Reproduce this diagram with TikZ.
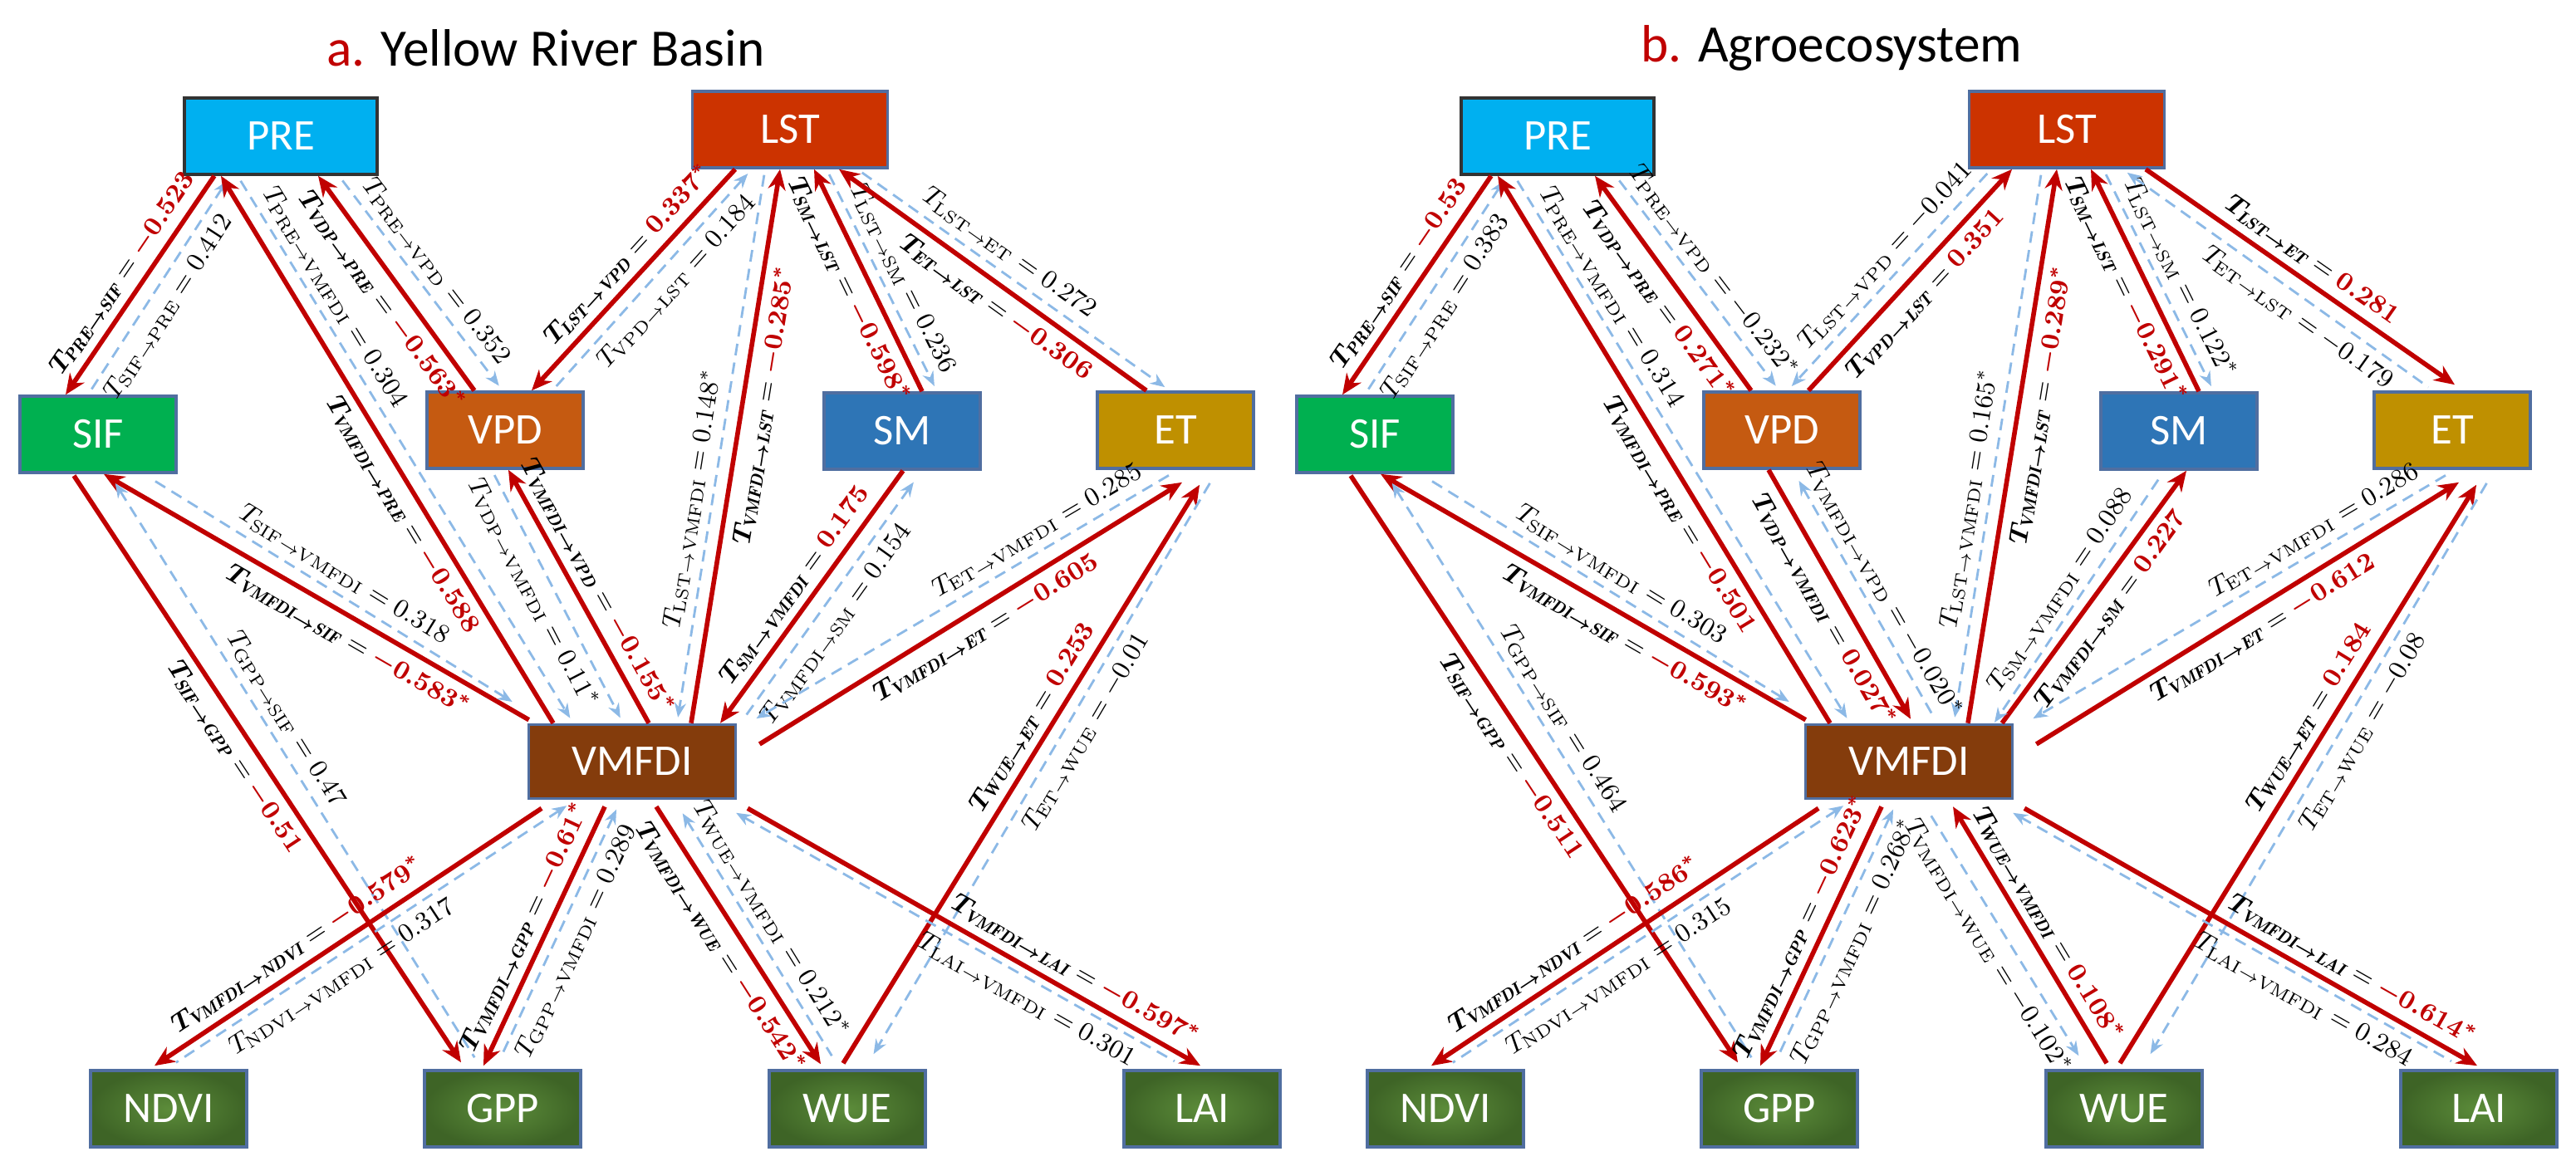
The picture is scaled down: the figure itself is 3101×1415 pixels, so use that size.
\documentclass[tikz,border=0pt]{standalone}
\usepackage{fontspec}
\usepackage{amsmath,bm}
\newfontfamily\calfont{Carlito}
\usetikzlibrary{calc,arrows.meta}
\definecolor{tred}{RGB}{192,0,0}
\definecolor{bl}{RGB}{140,185,230}
\definecolor{cPRE}{RGB}{0,176,240}
\definecolor{cLST}{RGB}{204,51,0}
\definecolor{cSIF}{RGB}{0,176,80}
\definecolor{cVPD}{RGB}{197,90,17}
\definecolor{cSM}{RGB}{46,117,182}
\definecolor{cET}{RGB}{191,144,0}
\definecolor{cVM}{RGB}{132,60,12}
\definecolor{gin}{RGB}{92,140,58}
\definecolor{gout}{RGB}{62,100,38}
\definecolor{bord}{RGB}{80,110,160}
\tikzset{
 box/.style={draw=bord,line width=1pt,text=white,font=\calfont\fontsize{15}{16}\selectfont,inner sep=0pt,minimum height=0.92cm,minimum width=1.88cm},
 gbox/.style={box,inner color=gin,outer color=gout},
 redline/.style={draw=tred,line width=1.6pt,>={Stealth[length=7pt,width=6pt]}},
 blueline/.style={draw=bl,line width=0.8pt,dash pattern=on 4pt off 2.5pt,>={Stealth[length=5pt,width=4pt]},shorten >=2pt,shorten <=2pt},
 lab/.style={font=\fontsize{9}{10}\selectfont,inner sep=2.6pt,text=black},
 ttl/.style={font=\calfont\fontsize{18}{20}\selectfont}
}
\newcommand\Red[9]{\draw[redline,#1] ($(#2)+(#3)$) -- node[lab,sloped,#7,pos=#6]{$\bm{T_{\mathit{#8}}} = \textcolor{tred}{\bm{#9}}$} ($(#4)+(#5)$);}
\newcommand\Blu[9]{\draw[blueline,#1] ($(#2)+(#3)$) -- node[lab,sloped,#7,pos=#6]{$T_{\mathrm{#8}} = #9$} ($(#4)+(#5)$);}
\begin{document}
\begin{tikzpicture}[x=0.01cm,y=-0.01cm]
\useasboundingbox (0,0) rectangle (3101,1415);
% ---------- panel a ----------
\node[ttl] (ta) at (657,58) {\textcolor{tred}{a.} Yellow River Basin};
\node[box,fill=cPRE,draw=black!80,minimum width=2.32cm] (aPRE) at (338,164) {PRE};
\node[box,fill=cLST,minimum width=2.35cm] (aLST) at (951,156) {LST};
\node[box,fill=cSIF] (aSIF) at (118,523) {SIF};
\node[box,fill=cVPD] (aVPD) at (608,518) {VPD};
\node[box,fill=cSM] (aSM) at (1086,519) {SM};
\node[box,fill=cET] (aET) at (1415,518) {ET};
\node[box,fill=cVM,minimum width=2.49cm,minimum height=0.89cm] (aVMFDI) at (761,917) {VMFDI};
\node[gbox] (aNDVI) at (203,1335) {NDVI};
\node[gbox] (aGPP) at (605,1335) {GPP};
\node[gbox] (aWUE) at (1020,1335) {WUE};
\node[gbox] (aLAI) at (1447,1335) {LAI};
\Red{->}{aPRE.south}{-80,0}{aSIF.north}{-39,0}{.5}{above}{PRE\to SIF}{-0.523}
\Blu{<-}{aPRE.south}{-61,0}{aSIF.north}{-12,0}{.55}{below}{SIF\to PRE}{0.412}
\Red{<-}{aPRE.south}{-72,0}{aVMFDI.north}{-95,0}{.6}{below}{VMFDI\to PRE}{-0.588}
\Blu{->}{aPRE.south}{-52,0}{aVMFDI.north}{-71,0}{.24}{above}{PRE\to VMFDI}{0.304}
\Red{<-}{aPRE.south}{45,0}{aVPD.north}{-37,0}{.52}{below}{VDP\to PRE}{-0.563^{*}}
\Blu{->}{aPRE.south}{70,0}{aVPD.north}{-3,0}{.5}{above}{PRE\to VPD}{0.352}
\Red{->}{aLST.south}{-66,0}{aVPD.north}{32,0}{.45}{above}{LST\to VPD}{0.337^{*}}
\Blu{<-}{aLST.south}{-46,0}{aVPD.north}{57,0}{.45}{below}{VPD\to LST}{0.184}
\Red{<-}{aLST.south}{-12,0}{aVMFDI.north}{71,0}{.42}{below}{VMFDI\to LST}{-0.285^{*}}
\Blu{->}{aLST.south}{-30,0}{aVMFDI.north}{54,0}{.6}{above}{LST\to VMFDI}{0.148^{*}}
\Red{<-}{aLST.south}{29,0}{aSM.north}{24,0}{.5}{below}{SM\to LST}{-0.598^{*}}
\Blu{->}{aLST.south}{44,0}{aSM.north}{42,0}{.53}{above}{LST\to SM}{0.236}
\Red{<-}{aLST.south}{59,0}{aET.north}{-35,0}{.55}{below}{ET\to LST}{-0.306}
\Blu{->}{aLST.south}{81,0}{aET.north}{-7,0}{.45}{above}{LST\to ET}{0.272}
\Red{<-}{aSIF.south}{7,0}{aVMFDI.north west}{2,-4}{.6}{below}{VMFDI\to SIF}{-0.583^{*}}
\Blu{->}{aSIF.south}{63,5}{aVMFDI.north west}{-12,-22}{.5}{above}{SIF\to VMFDI}{0.318}
\Red{<-}{aVPD.south}{4,0}{aVMFDI.north}{20,0}{.5}{above}{VMFDI\to VPD}{-0.155^{*}}
\Blu{->}{aVPD.south}{-16,0}{aVMFDI.north}{-11,0}{.45}{below}{VDP\to VMFDI}{0.11^{*}}
\Red{->}{aSM.south}{1,0}{aVMFDI.north}{106,0}{.5}{above}{SM\to VMFDI}{0.175}
\Blu{<-}{aSM.south}{18,8}{aVMFDI.north east}{4,0}{.55}{below}{VMFDI\to SM}{0.154}
\Red{<-}{aET.south}{8,15}{aVMFDI.east}{27,-21}{.49}{below}{VMFDI\to ET}{-0.605}
\Blu{->}{aET.south}{-2,3}{aVMFDI.north east}{17,-2}{.3}{above}{ET\to VMFDI}{0.285}
\Red{<-}{aET.south}{29,18}{aWUE.north}{-5,-7}{.42}{above}{WUE\to ET}{0.253}
\Blu{->}{aET.south}{45,10}{aWUE.north}{28,-12}{.42}{below}{ET\to WUE}{-0.01}
\Red{->}{aSIF.south}{-29,2}{aGPP.north}{-50,-8}{.46}{below}{SIF\to GPP}{-0.51}
\Blu{<-}{aSIF.south}{17,5}{aGPP.north}{-30,-8}{.43}{above}{GPP\to SIF}{0.47}
\Red{->}{aVMFDI.south}{-109,10}{aNDVI.north}{-17,-4}{.6}{above}{VMFDI\to NDVI}{-0.579^{*}}
\Blu{<-}{aVMFDI.south}{-73,3}{aNDVI.north}{3,-4}{.6}{below}{NDVI\to VMFDI}{0.317}
\Red{->}{aVMFDI.south}{-33,8}{aGPP.north}{-23,-4}{.5}{above}{VMFDI\to GPP}{-0.61^{*}}
\Blu{<-}{aVMFDI.south}{-16,5}{aGPP.north}{-5,-8}{.5}{below}{GPP\to VMFDI}{0.289}
\Red{->}{aVMFDI.south}{29,8}{aWUE.north}{-32,-6}{.5}{below}{VMFDI\to WUE}{-0.542^{*}}
\Blu{<-}{aVMFDI.south}{57,10}{aWUE.north}{-15,-10}{.48}{above}{WUE\to VMFDI}{0.212^{*}}
\Red{->}{aVMFDI.south}{139,10}{aLAI.north}{-2,-4}{.7}{above}{VMFDI\to LAI}{-0.597^{*}}
\Blu{<-}{aVMFDI.south}{119,12}{aLAI.north}{-27,-6}{.68}{below}{LAI\to VMFDI}{0.301}
% ---------- panel b ----------
\node[ttl] (tb) at (2205,58) {\textcolor{tred}{b.} Agroecosystem};
\node[box,fill=cPRE,draw=black!80,minimum width=2.32cm] (bPRE) at (1875,164) {PRE};
\node[box,fill=cLST,minimum width=2.35cm] (bLST) at (2488,156) {LST};
\node[box,fill=cSIF] (bSIF) at (1655,523) {SIF};
\node[box,fill=cVPD] (bVPD) at (2145,518) {VPD};
\node[box,fill=cSM] (bSM) at (2623,519) {SM};
\node[box,fill=cET] (bET) at (2952,518) {ET};
\node[box,fill=cVM,minimum width=2.49cm,minimum height=0.89cm] (bVMFDI) at (2298,917) {VMFDI};
\node[gbox] (bNDVI) at (1740,1335) {NDVI};
\node[gbox] (bGPP) at (2142,1335) {GPP};
\node[gbox] (bWUE) at (2557,1335) {WUE};
\node[gbox] (bLAI) at (2984,1335) {LAI};
\Red{->}{bPRE.south}{-80,0}{bSIF.north}{-39,0}{.5}{above}{PRE\to SIF}{-0.53}
\Blu{<-}{bPRE.south}{-61,0}{bSIF.north}{-12,0}{.55}{below}{SIF\to PRE}{0.383}
\Red{<-}{bPRE.south}{-72,0}{bVMFDI.north}{-95,0}{.6}{below}{VMFDI\to PRE}{-0.501}
\Blu{->}{bPRE.south}{-52,0}{bVMFDI.north}{-71,0}{.24}{above}{PRE\to VMFDI}{0.314}
\Red{<-}{bPRE.south}{45,0}{bVPD.north}{-37,0}{.52}{below}{VDP\to PRE}{0.271^{*}}
\Blu{->}{bPRE.south}{70,0}{bVPD.north}{-3,0}{.5}{above}{PRE\to VPD}{-0.232^{*}}
\Red{<-}{bLST.south}{-66,0}{bVPD.north}{32,0}{.5}{below}{VPD\to LST}{0.351}
\Blu{->}{bLST.south}{-91,0}{bVPD.north}{7,0}{.45}{above}{LST\to VPD}{-0.041}
\Red{<-}{bLST.south}{-12,0}{bVMFDI.north}{71,0}{.42}{below}{VMFDI\to LST}{-0.289^{*}}
\Blu{->}{bLST.south}{-30,0}{bVMFDI.north}{54,0}{.6}{above}{LST\to VMFDI}{0.165^{*}}
\Red{<-}{bLST.south}{29,0}{bSM.north}{24,0}{.5}{below}{SM\to LST}{-0.291^{*}}
\Blu{->}{bLST.south}{44,0}{bSM.north}{42,0}{.53}{above}{LST\to SM}{0.122^{*}}
\Red{->}{bLST.south}{95,0}{bET.north}{3,-7}{.5}{above}{LST\to ET}{0.281}
\Blu{<-}{bLST.south}{67,0}{bET.north}{-23,0}{.6}{below}{ET\to LST}{-0.179}
\Red{<-}{bSIF.south}{7,0}{bVMFDI.north west}{2,-4}{.6}{below}{VMFDI\to SIF}{-0.593^{*}}
\Blu{->}{bSIF.south}{63,5}{bVMFDI.north west}{-12,-22}{.5}{above}{SIF\to VMFDI}{0.303}
\Red{->}{bVPD.south}{-16,0}{bVMFDI.north}{2,-5}{.52}{below}{VDP\to VMFDI}{0.027^{*}}
\Blu{<-}{bVPD.south}{17,7}{bVMFDI.north}{34,0}{.5}{above}{VMFDI\to VPD}{-0.020^{*}}
\Red{<-}{bSM.south}{9,0}{bVMFDI.north}{112,0}{.5}{below}{VMFDI\to SM}{0.227}
\Blu{->}{bSM.south}{-21,5}{bVMFDI.north}{99,5}{.5}{above}{SM\to VMFDI}{0.088}
\Red{<-}{bET.south}{8,15}{bVMFDI.east}{27,-21}{.49}{below}{VMFDI\to ET}{-0.612}
\Blu{->}{bET.south}{-2,3}{bVMFDI.north east}{17,-2}{.3}{above}{ET\to VMFDI}{0.286}
\Red{<-}{bET.south}{29,18}{bWUE.north}{-5,-7}{.42}{above}{WUE\to ET}{0.184}
\Blu{->}{bET.south}{45,10}{bWUE.north}{28,-12}{.42}{below}{ET\to WUE}{-0.08}
\Red{->}{bSIF.south}{-29,2}{bGPP.north}{-50,-8}{.46}{below}{SIF\to GPP}{-0.511}
\Blu{<-}{bSIF.south}{17,5}{bGPP.north}{-30,-8}{.43}{above}{GPP\to SIF}{0.464}
\Red{->}{bVMFDI.south}{-109,10}{bNDVI.north}{-17,-4}{.6}{above}{VMFDI\to NDVI}{-0.586^{*}}
\Blu{<-}{bVMFDI.south}{-73,3}{bNDVI.north}{3,-4}{.6}{below}{NDVI\to VMFDI}{0.315}
\Red{->}{bVMFDI.south}{-33,8}{bGPP.north}{-23,-4}{.5}{above}{VMFDI\to GPP}{-0.623^{*}}
\Blu{<-}{bVMFDI.south}{-16,5}{bGPP.north}{-5,-8}{.5}{below}{GPP\to VMFDI}{0.268^{*}}
\Red{<-}{bVMFDI.south}{53,8}{bWUE.north}{-21,-7}{.5}{above}{WUE\to VMFDI}{0.108^{*}}
\Blu{->}{bVMFDI.south}{23,13}{bWUE.north}{-51,-10}{.5}{below}{VMFDI\to WUE}{-0.102^{*}}
\Red{->}{bVMFDI.south}{139,10}{bLAI.north}{-2,-4}{.7}{above}{VMFDI\to LAI}{-0.614^{*}}
\Blu{<-}{bVMFDI.south}{119,12}{bLAI.north}{-27,-6}{.68}{below}{LAI\to VMFDI}{0.284}
\end{tikzpicture}
\end{document}
